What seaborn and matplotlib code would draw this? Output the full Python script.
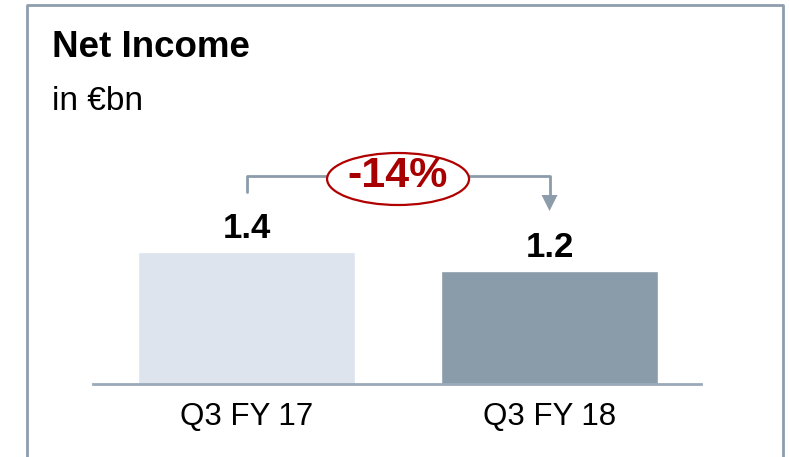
import matplotlib
matplotlib.use("Agg")
import matplotlib.pyplot as plt
from matplotlib.patches import Ellipse, Polygon
from matplotlib.lines import Line2D
import seaborn as sns
import pandas as pd

categories = ["Q3 FY 17", "Q3 FY 18"]
values = [1.4, 1.2]
value_labels = ["1.4", "1.2"]
change_label = "-14%"
title = "Net Income"
subtitle = "in €bn"
bar_colors = ["#DEE4EE", "#8A9BAA"]

sns.set_theme(style="white")
plt.rcParams["font.family"] = ["Liberation Sans", "DejaVu Sans"]

W, H = 790, 457
fig = plt.figure(figsize=(W / 100, H / 100), dpi=100)
fig.patch.set_facecolor("white")

# axes: x from 93 to 701 px, baseline at 384 px, 283 px tall
ax = fig.add_axes([93 / W, (H - 384) / H, 608 / W, 283 / H])
df = pd.DataFrame({"cat": categories, "val": values})
sns.barplot(data=df, x="cat", y="val", hue="cat", palette=bar_colors,
            width=0.716, legend=False, ax=ax, saturation=1)
ax.set_xlim(-0.507, 1.5)
ax.set_ylim(0, 3.0)
ax.set_xlabel("")
ax.set_ylabel("")
ax.set_yticks([])
for s in ["left", "right", "top"]:
    ax.spines[s].set_visible(False)
ax.spines["bottom"].set_color("#9AA9B8")
ax.spines["bottom"].set_linewidth(2)
ax.tick_params(axis="x", length=0, pad=13, labelsize=22.5, colors="black")
ax.patch.set_alpha(0)

for i, (v, lab) in enumerate(zip(values, value_labels)):
    ax.annotate(lab, xy=(i, v), xytext=(0, 10), textcoords="offset points",
                ha="center", va="baseline", fontsize=25, fontweight="bold",
                color="black")

# connector
ppu = 283 / 3.0
def ypx(px):
    return (384 - px) / ppu
gray = "#8C9CAA"
y_h = ypx(176)
ax.add_line(Line2D([0, 0, 1, 1], [ypx(192), y_h, y_h, ypx(196)],
                   color=gray, lw=2, clip_on=False, zorder=3))
ax.add_patch(Polygon([[1 - 8 / 303, ypx(195)], [1 + 8 / 303, ypx(195)],
                      [1, ypx(211)]], closed=True, facecolor=gray,
                     edgecolor="none", clip_on=False, zorder=3))
ax.add_patch(Ellipse((0.5, ypx(179)), 142 / 303, 52 / ppu,
                     facecolor="white", edgecolor="#B00000", lw=1.6,
                     clip_on=False, zorder=4))
ax.text(0.5, ypx(176), change_label, ha="center", va="center", fontsize=31,
        fontweight="bold", color="#A80000", zorder=5, clip_on=False)

# titles
fig.text(52 / W, (H - 57) / H, title, fontsize=26.5, fontweight="bold",
         ha="left", va="baseline", color="black")
fig.text(52 / W, (H - 110) / H, subtitle, fontsize=24,
         ha="left", va="baseline", color="black")

# border frame (open at bottom)
bc = "#8E9EAD"
fig.add_artist(Line2D([27 / W, 27 / W, 783 / W, 783 / W],
                      [-0.01, (H - 5) / H, (H - 5) / H, -0.01],
                      transform=fig.transFigure, color=bc, lw=2))

fig.savefig("out.png", dpi=100)
